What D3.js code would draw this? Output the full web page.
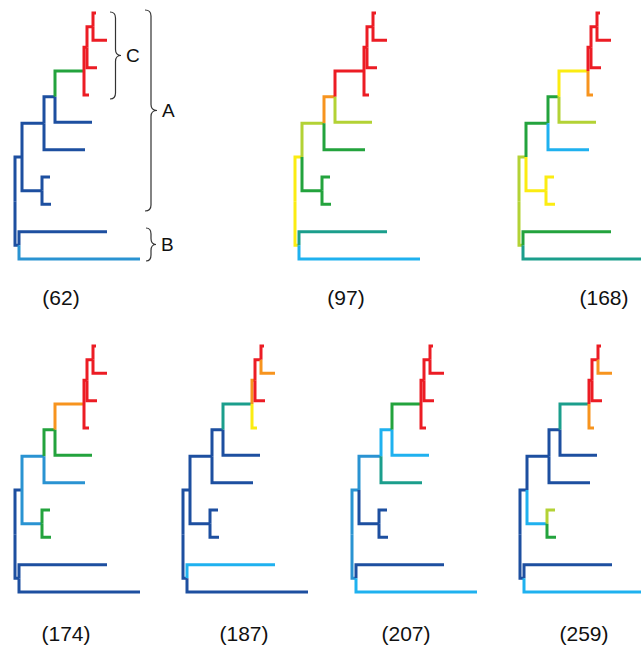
<!DOCTYPE html>
<html>
<head>
<meta charset="utf-8">
<script src="https://cdn.jsdelivr.net/npm/d3@7"></script>
<style>
  body { margin: 0; background: #fff; }
  svg { display: block; }
</style>
</head>
<body>
<svg id="fig" width="641" height="646"></svg>
<script>
// tree topology (same for every panel), leaves top to bottom L1..L10
const nodeIds    = ["R", "A", "B", "E", "D", "F", "L6", "C0", "L5", "C1", "L4", "C2", "L3", "L1", "L2", "L7", "L8", "L9", "L10"];
const nodeParent = ["",  "R", "R", "A", "A", "E", "E",  "F",  "F",  "C0", "C0", "C1", "C1", "C2", "C2", "D",  "D",  "B",  "B"];
// distance from root (branch-length units)
const nodeDepth  = [0,   7,   4,   29,  27,  40,  70,   69,   77,   72,   74,   78,   82,   81,   92,   35,   36,   92,   125];

// branch colours per panel, in nodeIds order without the root
const panelNames = ["(62)", "(97)", "(168)", "(174)", "(187)", "(207)", "(259)"];
const panelColors = [
  ["db","db","db","db","db","db","gr","db","rd","rd","rd","rd","rd","rd","db","db","db","mb"],
  ["ye","ye","yg","gr","or","gr","rd","yg","rd","rd","rd","rd","rd","rd","gr","gr","tl","lb"],
  ["yg","yg","gr","ye","gr","lb","ye","yg","rd","or","rd","rd","rd","rd","ye","ye","gr","tl"],
  ["db","db","mb","mb","gr","mb","or","gr","rd","rd","rd","rd","rd","rd","gr","gr","db","db"],
  ["db","db","db","db","db","db","tl","db","or","ye","rd","rd","rd","or","db","db","lb","db"],
  ["mb","mb","mb","db","lb","tl","gr","lb","rd","rd","rd","rd","rd","rd","db","db","db","lb"],
  ["db","db","db","lb","db","db","tl","db","rd","or","rd","rd","rd","or","yg","gr","db","lb"]
];
const palette = {
  db: "#1d4fa0", mb: "#2a93d2", lb: "#1fb1ef", tl: "#1b9e8c", gr: "#23a33d",
  yg: "#b3d235", ye: "#fbec12", or: "#f7941e", rd: "#ec1c24"
};

// panel placement
const panelX = [0, 280, 504, 0, 168, 337, 505];
const panelY = [0, 0, 0, 333, 333, 333, 333];
const labelX = [61, 346, 604, 66, 244, 406, 584];
const labelY = [305, 305, 305, 641, 641, 641, 641];

const svg = d3.select("#fig");

const table = nodeIds.map((id, i) => ({ id: id, parent: nodeParent[i], depth: nodeDepth[i] }));

panelNames.forEach((name, p) => {
  const root = d3.stratify().id(d => d.id).parentId(d => d.parent || null)(table);

  const x = d3.scaleLinear().domain([0, 125]).range([panelX[p] + 15, panelX[p] + 140]);
  const y = d3.scaleLinear().domain([0, 9]).range([panelY[p] + 13, panelY[p] + 259]);

  root.leaves().forEach((leaf, i) => { leaf.py = y(i); });
  root.eachAfter(n => {
    n.px = x(n.data.depth);
    if (n.children) n.py = (n.children[0].py + n.children[n.children.length - 1].py) / 2;
  });

  const g = svg.append("g").attr("class", "panel");

  root.descendants().slice(1).forEach(n => {
    const k = nodeIds.indexOf(n.id) - 1;
    g.append("path")
      .attr("d", "M" + n.parent.px + "," + n.parent.py + "V" + n.py + "H" + n.px)
      .attr("fill", "none")
      .attr("stroke", palette[panelColors[p][k]])
      .attr("stroke-width", 3)
      .attr("stroke-linejoin", "miter");
  });

  svg.append("text")
    .attr("x", labelX[p])
    .attr("y", labelY[p])
    .attr("text-anchor", "middle")
    .style("font-family", "Liberation Sans, Arial, sans-serif")
    .style("font-size", "21px")
    .attr("fill", "#111")
    .text(name);
});

// clade braces on the first panel
const braces = [
  { name: "C", x: 110, y1: 12, y2: 99, w: 11 },
  { name: "A", x: 145, y1: 10, y2: 211, w: 12 },
  { name: "B", x: 146, y1: 228, y2: 261, w: 10 }
];

function bracePath(b) {
  const m = (b.y1 + b.y2) / 2, h = b.w / 2, r = Math.min(6, (b.y2 - b.y1) / 4);
  return "M" + b.x + "," + b.y1 +
    "Q" + (b.x + h) + "," + b.y1 + " " + (b.x + h) + "," + (b.y1 + r) +
    "V" + (m - r) +
    "Q" + (b.x + h) + "," + m + " " + (b.x + b.w) + "," + m +
    "Q" + (b.x + h) + "," + m + " " + (b.x + h) + "," + (m + r) +
    "V" + (b.y2 - r) +
    "Q" + (b.x + h) + "," + b.y2 + " " + b.x + "," + b.y2;
}

braces.forEach(b => {
  svg.append("path")
    .attr("d", bracePath(b))
    .attr("fill", "none")
    .attr("stroke", "#333")
    .attr("stroke-width", 1.2);
  svg.append("text")
    .attr("x", b.x + b.w + 5)
    .attr("y", (b.y1 + b.y2) / 2)
    .attr("dy", "0.36em")
    .style("font-family", "Liberation Sans, Arial, sans-serif")
    .style("font-size", "19px")
    .attr("fill", "#111")
    .text(b.name);
});
</script>
</body>
</html>
